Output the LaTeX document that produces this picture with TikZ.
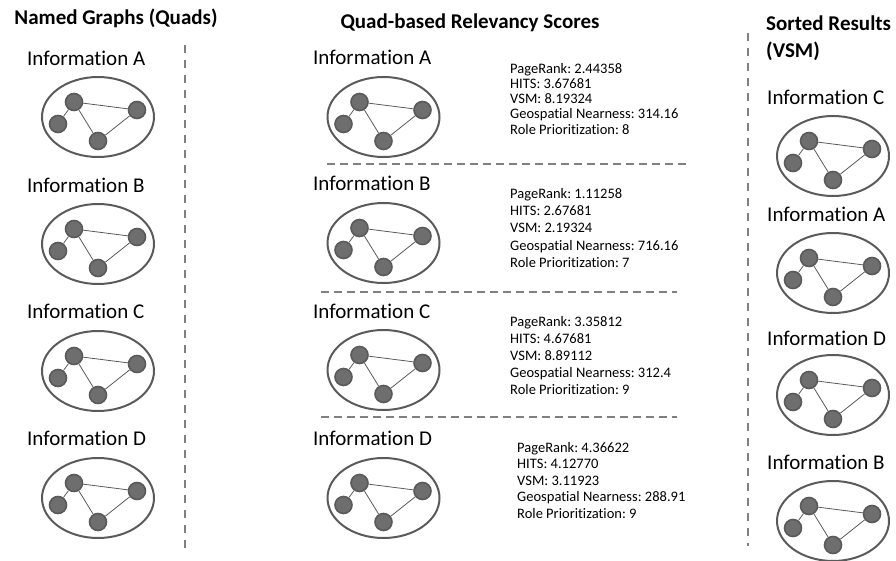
\documentclass[tikz,border=0pt]{standalone}
\usepackage{fontspec}
\setmainfont{Carlito}[RawFeature={-liga}]
\usetikzlibrary{shapes.geometric}
\frenchspacing

\definecolor{rimgray}{HTML}{5A5A5A}
\definecolor{dotgray}{HTML}{6E6E6E}
\definecolor{dashgray}{HTML}{808080}

\tikzset{
  heading/.style={font=\fontsize{21}{25}\selectfont\bfseries, inner sep=0pt},
  infolabel/.style={font=\fontsize{21}{25}\selectfont, anchor=west, inner sep=0pt},
  scores/.style={align=left, anchor=north west, inner sep=0pt},
  graphbox/.style={ellipse, draw=rimgray, line width=2pt, minimum width=112pt, minimum height=80pt, inner sep=0pt},
  vertex/.style={circle, fill=dotgray, draw=rimgray, line width=1.6pt, minimum size=17pt, inner sep=0pt},
  link/.style={draw=rimgray, line width=0.8pt},
  sepline/.style={draw=dashgray, line width=2pt, dash pattern=on 8pt off 5pt}
}

% one named graph: name, x, y
\newcommand{\namedgraph}[3]{%
  \node[graphbox] (#1) at (#2,#3) {};
  \node[vertex] (#1-a) at (#2-24,#3-15) {};
  \node[vertex] (#1-b) at (#2-40,#3+7) {};
  \node[vertex] (#1-c) at (#2,#3+24) {};
  \node[vertex] (#1-d) at (#2+39,#3-7) {};
  \draw[link] (#1-a) -- (#1-b);
  \draw[link] (#1-a) -- (#1-c);
  \draw[link] (#1-a) -- (#1-d);
  \draw[link] (#1-c) -- (#1-d);
}

\begin{document}
\begin{tikzpicture}[x=1pt,y=-1pt]
        \useasboundingbox (0,0) rectangle (896,561);

        %headings
        \node[heading] (headL) at (116,18) {Named Graphs (Quads)};
        \node[heading] (headM) at (470,23) {Quad-based Relevancy Scores};
        \node[heading, anchor=west] (headR) at (766,23) {Sorted Results};
        \node[heading, anchor=west] (headR2) at (766,51) {(VSM)};

        %separators
        \draw[sepline, dash pattern=on 8pt off 7pt] (185,45) -- (185,552);
        \draw[sepline, dash pattern=on 8pt off 7pt] (748,33) -- (748,546);
        \draw[sepline] (327,164) -- (686,164);
        \draw[sepline] (321,292) -- (677,292);
        \draw[sepline] (321,417) -- (677,417);

        %named graphs
        \node[infolabel] (labLA) at (27,58) {Information A};
        \namedgraph{gLA}{98}{117}
        \node[infolabel] (labLB) at (27,185) {Information B};
        \namedgraph{gLB}{98}{244}
        \node[infolabel] (labLC) at (27,311) {Information C};
        \namedgraph{gLC}{98}{371}
        \node[infolabel] (labLD) at (27,438) {Information D};
        \namedgraph{gLD}{98}{498}

        %relevancy scores
        \node[infolabel] (labMA) at (313,57) {Information A};
        \namedgraph{gMA}{383.5}{117}
        \node[scores, font=\fontsize{14.5}{15.2}\selectfont] (scA) at (510,63)
          {PageRank: 2.44358\\HITS: 3.67681\\VSM: 8.19324\\Geospatial Nearness: 314.16\\Role Prioritization: 8};
        \node[infolabel] (labMB) at (313,183) {Information B};
        \namedgraph{gMB}{383.5}{243}
        \node[scores, font=\fontsize{14.5}{17.3}\selectfont] (scB) at (510,188)
          {PageRank: 1.11258\\HITS: 2.67681\\VSM: 2.19324\\Geospatial Nearness: 716.16\\Role Prioritization: 7};
        \node[infolabel] (labMC) at (313,311) {Information C};
        \namedgraph{gMC}{383.5}{370}
        \node[scores, font=\fontsize{14.5}{17.1}\selectfont] (scC) at (510,316)
          {PageRank: 3.35812\\HITS: 4.67681\\VSM: 8.89112\\Geospatial Nearness: 312.4\\Role Prioritization: 9};
        \node[infolabel] (labMD) at (313,438) {Information D};
        \namedgraph{gMD}{383.5}{498}
        \node[scores, font=\fontsize{14.5}{16.5}\selectfont] (scD) at (517,442)
          {PageRank: 4.36622\\HITS: 4.12770\\VSM: 3.11923\\Geospatial Nearness: 288.91\\Role Prioritization: 9};

        %sorted results
        \node[infolabel] (labRC) at (767,97) {Information C};
        \namedgraph{gRC}{833}{156}
        \node[infolabel] (labRA) at (767,214) {Information A};
        \namedgraph{gRA}{833}{273}
        \node[infolabel] (labRD) at (767,338) {Information D};
        \namedgraph{gRD}{833}{395}
        \node[infolabel] (labRB) at (767,462) {Information B};
        \namedgraph{gRB}{833}{521}
    \end{tikzpicture}
\end{document}
